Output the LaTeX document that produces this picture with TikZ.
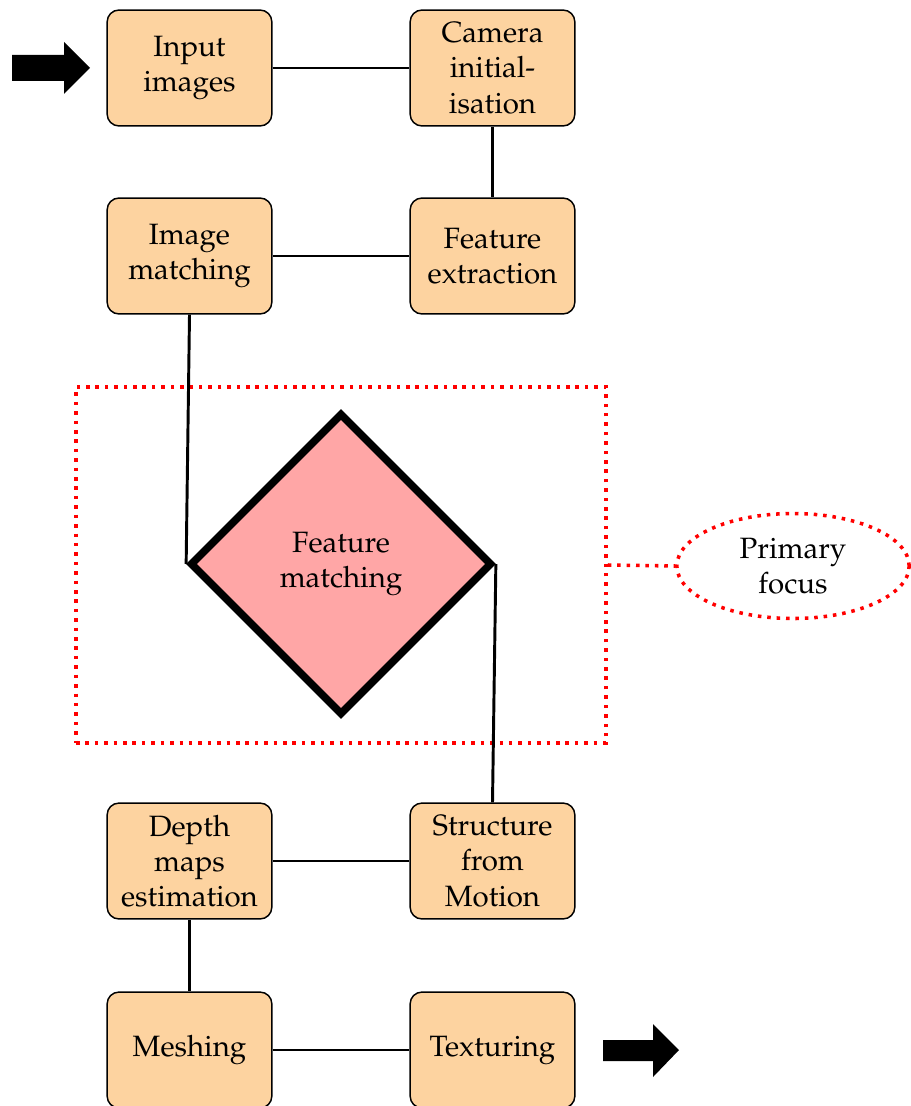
\documentclass[tikz,border=0pt]{standalone}
\usepackage[T1]{fontenc}
\usepackage{mathpazo}
\usetikzlibrary{shapes.geometric}
\definecolor{boxfill}{RGB}{253,211,160}
\definecolor{diafill}{RGB}{255,166,166}
\begin{document}
\begin{tikzpicture}[x=0.34pt,y=-0.34pt,
  stage/.style={draw=black, line width=0.5pt, fill=boxfill, rounded corners=4pt,
    minimum width=56pt, minimum height=39.4pt, align=center, inner sep=1pt},
  decision/.style={diamond, aspect=1, draw=black, line width=2.6pt, fill=diafill,
    minimum width=102.7pt, minimum height=102.7pt, inner sep=0pt, align=center},
  link/.style={draw=black, line width=1pt},
  focusline/.style={draw=red, line width=1.2pt, dash pattern=on 1.2pt off 2pt},
  ]
\useasboundingbox (0,0) rectangle (910,1106);

% processing stages
\node[stage] (input)   at (189.5,68)   {Input\\images};
\node[stage] (camera)  at (492.5,68)   {Camera\\initial-\\isation};
\node[stage] (imgmatch) at (189.5,256) {Image\\matching};
\node[stage] (featext) at (492.5,256)  {Feature\\extraction};
\node[decision] (featmatch) at (341,564) {Feature\\matching};
\node[stage] (depth)   at (189.5,861)  {Depth\\maps\\estimation};
\node[stage] (sfm)     at (492.5,861)  {Structure\\from\\Motion};
\node[stage] (mesh)    at (189.5,1050) {Meshing};
\node[stage] (texture) at (492.5,1050) {Texturing};

% highlighted region and its label
\node[focusline, minimum width=180.2pt, minimum height=121pt, inner sep=0pt]
  (focus) at (341,565) {};
\node[focusline, ellipse, minimum width=79pt, minimum height=35.7pt, align=center,
  inner sep=0pt] (focuslabel) at (793,566) {Primary\\focus};
\draw[focusline] (focus.east) -- (focuslabel.west);

% connectors
\draw[link] (input) -- (camera);
\draw[link] (camera) -- (featext);
\draw[link] (featext) -- (imgmatch);
\draw[link] (imgmatch.south) -- (featmatch.west);
\draw[link] (featmatch.east) -- (sfm.north);
\draw[link] (sfm) -- (depth);
\draw[link] (depth) -- (mesh);
\draw[link] (mesh) -- (texture);

% entry and exit arrows
\fill (12,55) -- (64,55) -- (64,42) -- (90,68) -- (64,94) -- (64,81) -- (12,81) -- cycle;
\fill (603,1040) -- (653,1040) -- (653,1024) -- (679,1050) -- (653,1077) -- (653,1061) -- (603,1061) -- cycle;
\end{tikzpicture}
\end{document}
